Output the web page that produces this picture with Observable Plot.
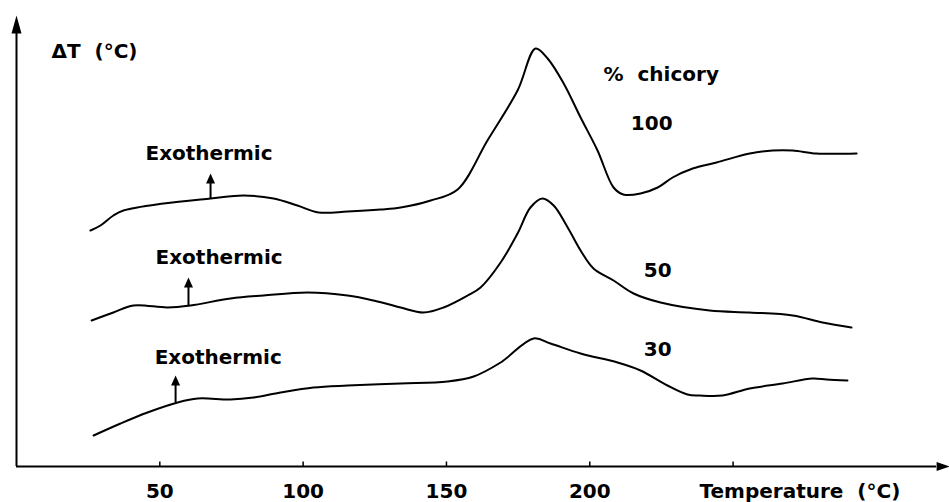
<!DOCTYPE html>
<html><head><meta charset="utf-8">
<script src="https://cdn.jsdelivr.net/npm/d3@7"></script>
<script src="https://cdn.jsdelivr.net/npm/@observablehq/plot@0.6"></script>
<style>body{margin:0;background:#fff}</style>
</head><body><div id="chart"></div>
<script>
// Temperature (°C) and ΔT (arbitrary units)
const temp100 = [25.8, 29.3, 33.8, 37.3, 51.3, 67.7, 79.2, 89.7, 98.0, 105.4, 115.5, 127.0, 134.0, 144.5, 153.9, 164.3, 174.8, 181.1, 185.3, 190.9, 196.8, 202.7, 208.3, 211.7, 217.7, 223.7, 228.9, 235.9, 244.2, 255.8, 263.8, 270.8, 279.1, 293.1];
const dT100   = [23.6, 24.1, 25.1, 25.6, 26.3, 26.8, 27.1, 26.8, 26.1, 25.4, 25.5, 25.7, 25.9, 26.6, 27.7, 32.6, 37.6, 41.8, 40.8, 38.3, 34.9, 31.6, 27.9, 27.2, 27.3, 27.9, 28.9, 29.8, 30.4, 31.3, 31.6, 31.6, 31.3, 31.3];

const temp50 = [26.2, 33.8, 40.8, 52.7, 60.7, 74.7, 86.2, 101.5, 115.5, 124.6, 134.0, 142.0, 149.0, 157.4, 161.9, 168.9, 174.8, 179.3, 183.5, 187.4, 192.3, 196.8, 201.3, 208.3, 215.3, 224.7, 241.8, 255.8, 270.8, 281.2, 291.3];
const dT50   = [14.6, 15.4, 16.1, 15.9, 16.1, 16.8, 17.1, 17.4, 17.1, 16.6, 15.9, 15.4, 15.9, 17.1, 17.9, 20.4, 23.3, 25.9, 26.8, 26.1, 23.9, 21.6, 19.8, 18.6, 17.3, 16.4, 15.6, 15.4, 15.1, 14.4, 13.9];

const temp30 = [26.9, 36.3, 45.7, 56.2, 63.2, 74.7, 82.7, 92.1, 103.6, 115.5, 134.0, 150.4, 159.5, 168.9, 180.4, 186.3, 196.8, 209.7, 217.7, 227.1, 234.1, 238.3, 246.3, 255.8, 267.3, 277.7, 282.6, 289.9];
const dT30   = [3.1, 4.3, 5.4, 6.4, 6.8, 6.7, 6.9, 7.4, 7.9, 8.1, 8.3, 8.5, 9.0, 10.4, 12.8, 12.3, 11.3, 10.4, 9.6, 8.1, 7.2, 7.1, 7.1, 7.8, 8.3, 8.8, 8.7, 8.6];

const seriesNames = ["100", "50", "30"];
const xTicks = [50, 100, 150, 200, 250];
const xTickLabels = [50, 100, 150, 200];

// Exothermic arrow positions (temperature, ΔT at curve, ΔT at tip)
const exoTemp = [67.7, 60.0, 55.5];
const exoBase = [26.8, 16.1, 6.4];
const exoTip  = [29.3, 18.9, 9.1];

// Build table
const rows = [];
[[temp100, dT100], [temp50, dT50], [temp30, dT30]].forEach(([ts, vs], i) => {
  ts.forEach((t, j) => rows.push({series: seriesNames[i], T: t, v: vs[j]}));
});
const exo = exoTemp.map((t, i) => ({T: t, base: exoBase[i], tip: exoTip[i]}));

// annotation layout
const startLabels = [
  {text: "ΔT  (°C)", T: 12.2, v: 41.45},
  {text: "Exothermic", T: 45.0, v: 31.25},
  {text: "Exothermic", T: 48.5, v: 20.85},
  {text: "Exothermic", T: 48.2, v: 10.85},
  {text: "%  chicory", T: 204.8, v: 39.2}
];
const seriesLabels = [
  {text: "100", T: 221.6, v: 34.3},
  {text: "50", T: 223.7, v: 19.6},
  {text: "30", T: 223.7, v: 11.7}
];

function arrowHead(w, h) {
  return {draw(ctx) { ctx.moveTo(0, -h); ctx.lineTo(w / 2, 0); ctx.lineTo(-w / 2, 0); ctx.closePath(); }};
}

const chart = Plot.plot({
  width: 949,
  height: 502,
  marginLeft: 16,
  marginRight: 0,
  marginTop: 15,
  marginBottom: 36,
  style: {fontFamily: "'DejaVu Sans', sans-serif", background: "#fff", color: "#000"},
  x: {domain: [0, 325.5]},
  y: {domain: [0, 45.1], axis: null},
  marks: [
    // axes
    Plot.ruleY([0], {x1: 0, x2: 321, strokeWidth: 2}),
    Plot.ruleX([0], {y1: 0, y2: 43.3, strokeWidth: 2}),
    Plot.dot([0], {x: 321, y: 0, symbol: arrowHead(9, 13), rotate: 90, fill: "black", stroke: null}),
    Plot.dot([0], {x: 0, y: 43.3, symbol: arrowHead(10, 18), fill: "black", stroke: null}),
    Plot.ruleX(xTicks, {x: d => d, y1: 0, y2: 0.45, strokeWidth: 1.5}),
    Plot.axisX({ticks: xTickLabels, tickSize: 0, tickPadding: 17, fontSize: 20, fontWeight: "bold", label: null}),
    Plot.text(["Temperature  (°C)"], {x: 238.3, y: 0, text: d => d, textAnchor: "start", lineAnchor: "top", dy: 17, fontSize: 20, fontWeight: "bold"}),
    // curves
    Plot.line(rows, {x: "T", y: "v", z: "series", curve: "catmull-rom", stroke: "black", strokeWidth: 2}),
    // exothermic arrows
    Plot.ruleX(exo, {x: "T", y1: "base", y2: d => d.tip - 0.9, strokeWidth: 2}),
    Plot.dot(exo, {x: "T", y: d => d.tip - 1.0, symbol: arrowHead(9, 10), fill: "black", stroke: null}),
    // labels
    Plot.text(startLabels, {x: "T", y: "v", text: "text", textAnchor: "start", fontSize: 20, fontWeight: "bold", fill: "black"}),
    Plot.text(seriesLabels, {x: "T", y: "v", text: "text", textAnchor: "middle", fontSize: 20, fontWeight: "bold", fill: "black"})
  ]
});
document.getElementById("chart").append(chart);
</script>
</body></html>
